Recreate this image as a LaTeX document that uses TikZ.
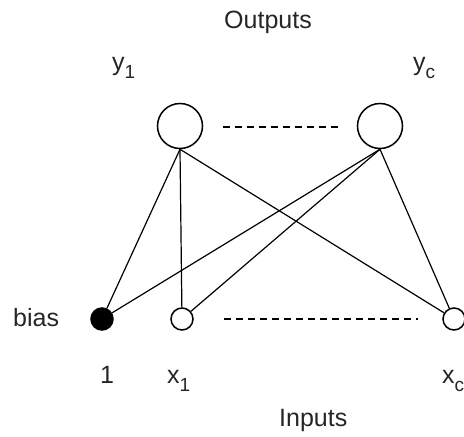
\documentclass[tikz,border=0pt]{standalone}
\usepackage{fontspec}
\setmainfont{Liberation Sans}
\newcommand\lowsub[1]{\raisebox{-8pt}{\fontsize{19}{19}\selectfont #1}}
\begin{document}
\begin{tikzpicture}[x=1pt,y=-1pt,
  lbl/.style={inner sep=0pt, font=\fontsize{25}{30}\selectfont, text=black!85},
  neuron/.style={circle, draw, line width=1.5pt, minimum size=45pt, inner sep=0pt},
  unit/.style={circle, draw, line width=1.5pt, minimum size=22pt, inner sep=0pt},
  link/.style={line width=1.2pt},
  dots/.style={line width=1.2pt, dash pattern=on 7pt off 5pt}]
\useasboundingbox (0,0) rectangle (464,437);
\node[neuron] (y1) at (180,126) {};
\node[neuron] (yc) at (380,126) {};
\node[unit, fill=black] (bias) at (102,319) {};
\node[unit] (x1) at (182,319) {};
\node[unit] (xc) at (454,319) {};
\coordinate (td1) at (223,127);
\coordinate (td2) at (338,127);
\coordinate (bd1) at (224,319);
\coordinate (bd2) at (418,319);
\draw[dots] (td1) -- (td2);
\draw[dots] (bd1) -- (bd2);
\foreach \s in {y1,yc}{
  \foreach \t in {bias,x1,xc}{
    \draw[link] (\s.south) -- (\t);
  }
}
\node[lbl, anchor=base] (out) at (268,28) {Outputs};
\node[lbl, anchor=base west] (ly1) at (112,70) {y\lowsub{1}};
\node[lbl, anchor=base west] (lyc) at (413,70) {y\lowsub{c}};
\node[lbl, anchor=base west] (lbias) at (13,326) {bias};
\node[lbl, anchor=base west] (l1) at (100,383) {1};
\node[lbl, anchor=base west] (lx1) at (167,383) {x\lowsub{1}};
\node[lbl, anchor=base west] (lxc) at (442,383) {x\lowsub{c}};
\node[lbl, anchor=base west] (lin) at (279,426) {Inputs};
\end{tikzpicture}
\end{document}
